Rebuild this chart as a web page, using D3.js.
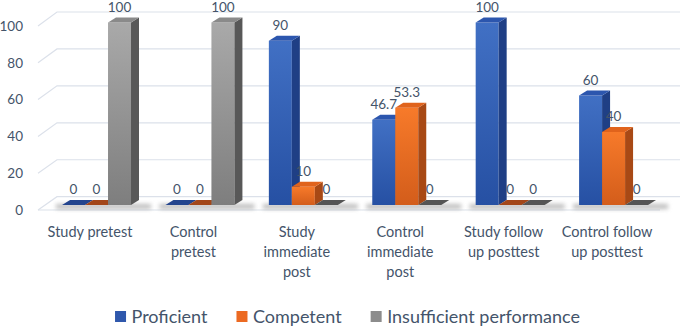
<!DOCTYPE html>
<html>
<head>
<meta charset="utf-8">
<script src="https://cdn.jsdelivr.net/npm/d3@7"></script>
<style>
  html, body { margin: 0; padding: 0; background: #ffffff; }
  svg { display: block; font-family: Lato, "Open Sans", sans-serif; }
</style>
</head>
<body>
<svg id="chart" width="685" height="326"></svg>
<script>
// ---- data ----
const categories = [
  "Study pretest",
  "Control\npretest",
  "Study\nimmediate\npost",
  "Control\nimmediate\npost",
  "Study follow\nup posttest",
  "Control follow\nup posttest"
];
const seriesNames = ["Proficient", "Competent", "Insufficient performance"];
const proficient   = [0, 0, 90, 46.7, 100, 60];
const competent    = [0, 0, 10, 53.3, 0, 40];
const insufficient = [100, 100, 0, 0, 0, 0];
const yTicks = [0, 20, 40, 60, 80, 100];

const seriesValues = [proficient, competent, insufficient];

// ---- styles ----
const textColor = "#44546A";
const palette = {
  "Proficient":               { front: ["#4170C4", "#2650A3"], top: "#2C56AE", side: "#1F3F85", zero: "#24458E" },
  "Competent":                { front: ["#F77A2A", "#D35D1B"], top: "#E0631C", side: "#A84915", zero: "#A3471A" },
  "Insufficient performance": { front: ["#A9A9A9", "#7E7E7E"], top: "#8A8A8A", side: "#585858", zero: "#555555" }
};
const legendColor = { "Proficient": "#2F58AC", "Competent": "#EC6A22", "Insufficient performance": "#8C8C8C" };

const svg = d3.select("#chart");
const defs = svg.append("defs");
seriesNames.forEach((s, i) => {
  const g = defs.append("linearGradient").attr("id", "grad" + i)
    .attr("x1", 0).attr("y1", 0).attr("x2", 0).attr("y2", 1);
  g.append("stop").attr("offset", "0%").attr("stop-color", palette[s].front[0]);
  g.append("stop").attr("offset", "100%").attr("stop-color", palette[s].front[1]);
});
defs.append("filter").attr("id", "blur").attr("x", "-20%").attr("y", "-200%").attr("width", "140%").attr("height", "500%")
  .append("feGaussianBlur").attr("stdDeviation", 2.2);

// ---- scales ----
const x0 = d3.scaleBand().domain(categories).range([27.6, 682.5]).paddingInner(0.333).paddingOuter(0.333);
const x1 = d3.scaleBand().domain(seriesNames).range([0, x0.bandwidth()]);
const y = d3.scaleLinear().domain([0, 100]).range([205, 22.5]);       // bar front plane
const yFront = d3.scaleLinear().domain([0, 100]).range([210, 26]);    // floor/wall front edge
const yBack = d3.scaleLinear().domain([0, 100]).range([196.7, 12]);   // back wall
const depthX = 8, depthY = -5;
const wallLeft = 38, wallLeftBack = 57, wallRight = 680, floorRight = 660;

// ---- gridlines ----
const grid = svg.append("g");
grid.selectAll("polyline").data(yTicks).join("polyline")
  .attr("points", d => `${wallLeft},${yFront(d)} ${wallLeftBack},${yBack(d)} ${wallRight},${yBack(d)}`)
  .attr("fill", "none").attr("stroke", "#DCE1EA").attr("stroke-width", 1.2);
grid.append("line")
  .attr("x1", wallLeft).attr("x2", floorRight).attr("y1", yFront(0)).attr("y2", yFront(0))
  .attr("stroke", "#DCE1EA").attr("stroke-width", 1.2);

// ---- y axis labels ----
svg.append("g").selectAll("text").data(yTicks).join("text")
  .attr("x", 23).attr("y", d => yFront(d)).attr("dy", "0.35em")
  .attr("text-anchor", "end").attr("fill", textColor).attr("font-size", 13.5)
  .text(d => d);

// ---- floor shadows ----
svg.append("g").selectAll("rect").data(categories).join("rect")
  .attr("x", c => x0(c) - 6).attr("y", y(0) - 1)
  .attr("width", x0.bandwidth() + 26).attr("height", 5)
  .attr("fill", "#8a8a8a").attr("opacity", 0.55).attr("filter", "url(#blur)");

// ---- bars ----
const barsG = svg.append("g");
categories.forEach((c, ci) => {
  seriesNames.forEach((s, si) => {
    const v = seriesValues[si][ci];
    const bx = x0(c) + x1(s), w = x1.bandwidth();
    const yt = y(v), yb = y(0);
    const g = barsG.append("g");
    if (v > 0) {
      g.append("rect").attr("x", bx).attr("y", yt).attr("width", w).attr("height", yb - yt)
        .attr("fill", `url(#grad${si})`);
      g.append("polygon")
        .attr("points", `${bx + w},${yt} ${bx + w + depthX},${yt + depthY} ${bx + w + depthX},${yb + depthY} ${bx + w},${yb}`)
        .attr("fill", palette[s].side);
    }
    g.append("polygon")
      .attr("points", `${bx},${yt} ${bx + depthX},${yt + depthY} ${bx + w + depthX},${yt + depthY} ${bx + w},${yt}`)
      .attr("fill", v > 0 ? palette[s].top : palette[s].zero);
  });
});

// ---- data labels ----
const labelsG = svg.append("g");
categories.forEach((c, ci) => {
  seriesNames.forEach((s, si) => {
    const v = seriesValues[si][ci];
    labelsG.append("text")
      .attr("x", x0(c) + x1(s) + x1.bandwidth() / 2)
      .attr("y", y(v) - 11)
      .attr("text-anchor", "middle").attr("fill", textColor).attr("font-size", 13.5)
      .text(v);
  });
});

// ---- category labels ----
const catG = svg.append("g");
categories.forEach(c => {
  const t = catG.append("text")
    .attr("x", x0(c) + x0.bandwidth() / 2 - 6.5).attr("y", 236.7)
    .attr("text-anchor", "middle").attr("fill", textColor).attr("font-size", 14.5);
  c.split("\n").forEach((line, li) => {
    t.append("tspan").attr("x", x0(c) + x0.bandwidth() / 2 - 6.5).attr("dy", li === 0 ? 0 : 20).text(line);
  });
});

// ---- legend ----
const legendG = svg.append("g");
const items = seriesNames.map(s => {
  const g = legendG.append("g");
  g.append("rect").attr("width", 11).attr("height", 11).attr("y", 311).attr("fill", legendColor[s]);
  const t = g.append("text").attr("x", 16.5).attr("y", 322.5).attr("fill", textColor)
    .attr("font-size", 18).text(s);
  return { g, w: 16.5 + t.node().getComputedTextLength() };
});
const gap = 29;
const totalW = d3.sum(items, d => d.w) + gap * (items.length - 1);
let lx = 347.5 - totalW / 2;
items.forEach(it => { it.g.attr("transform", `translate(${lx},0)`); lx += it.w + gap; });
</script>
</body>
</html>
